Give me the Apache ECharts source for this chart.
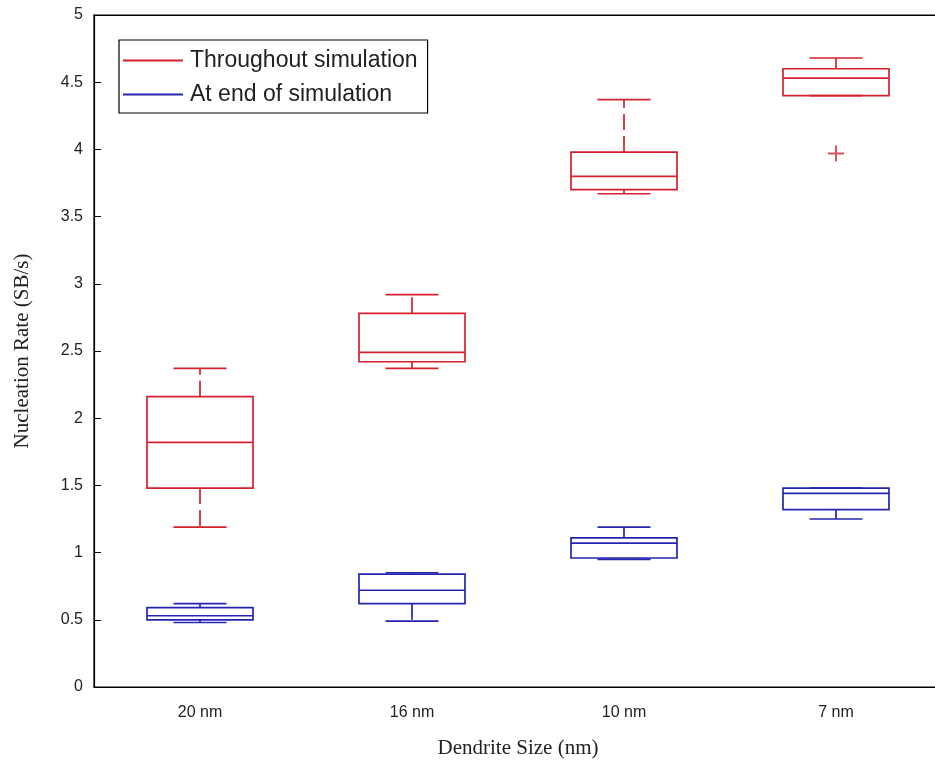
<!DOCTYPE html>
<html>
<head>
<meta charset="utf-8">
<style>
  html, body { margin: 0; padding: 0; background: #fff; }
  #chart { width: 935px; height: 768px; }
</style>
<script src="https://cdn.jsdelivr.net/npm/echarts@6/dist/echarts.min.js"></script>
</head>
<body>
<div id="chart"></div>
<script>
// Dendrite sizes on the x axis
const categories = ['20 nm', '16 nm', '10 nm', '7 nm'];

// Box statistics per size: [lower whisker, Q1, median, Q3, upper whisker]
const throughoutStats = [
  [1.19, 1.48, 1.82, 2.16, 2.37],
  [2.37, 2.42, 2.49, 2.78, 2.92],
  [3.67, 3.70, 3.80, 3.98, 4.37],
  [4.40, 4.40, 4.53, 4.60, 4.68]
];
const endStats = [
  [0.48, 0.50, 0.53, 0.59, 0.62],
  [0.49, 0.62, 0.72, 0.84, 0.85],
  [0.95, 0.96, 1.07, 1.11, 1.19],
  [1.25, 1.32, 1.44, 1.48, 1.48]
];

// Outliers: [category index, value]
const throughoutOutliers = [[3, 3.97]];

const yTicks = { min: 0, max: 5, interval: 0.5 };

const RED = '#d3222c';
const BLUE = '#2424b0';

function boxRenderer(color) {
  return function (params, api) {
    const idx = api.value(0);
    const lo = api.value(1), q1 = api.value(2), med = api.value(3),
          q3 = api.value(4), hi = api.value(5);
    const band = api.size([1, 0])[0];
    const half = band * 0.25;      // box spans half a category
    const capHalf = half * 0.5;    // whisker caps are half the box width
    const cx = api.coord([idx, 0])[0];
    const yLo = api.coord([idx, lo])[1];
    const yQ1 = api.coord([idx, q1])[1];
    const yMed = api.coord([idx, med])[1];
    const yQ3 = api.coord([idx, q3])[1];
    const yHi = api.coord([idx, hi])[1];
    const solid = { stroke: color, lineWidth: 1.7, fill: null };
    const dashed = { stroke: color, lineWidth: 1.7, lineDash: [16, 6] };
    return {
      type: 'group',
      children: [
        { type: 'line', shape: { x1: cx, y1: yQ3, x2: cx, y2: yHi }, style: dashed },
        { type: 'line', shape: { x1: cx, y1: yQ1, x2: cx, y2: yLo }, style: dashed },
        { type: 'line', shape: { x1: cx - capHalf, y1: yHi, x2: cx + capHalf, y2: yHi }, style: solid },
        { type: 'line', shape: { x1: cx - capHalf, y1: yLo, x2: cx + capHalf, y2: yLo }, style: solid },
        { type: 'rect', shape: { x: cx - half, y: yQ3, width: half * 2, height: yQ1 - yQ3 }, style: solid },
        { type: 'line', shape: { x1: cx - half, y1: yMed, x2: cx + half, y2: yMed }, style: solid }
      ]
    };
  };
}

function toBoxData(stats) {
  return stats.map((s, i) => [i].concat(s));
}

const chart = echarts.init(document.getElementById('chart'), null, { renderer: 'canvas' });

const sansFont = '"Liberation Sans", Arial, sans-serif';
const serifFont = '"Liberation Serif", "Times New Roman", serif';

chart.setOption({
  backgroundColor: '#ffffff',
  animation: false,
  grid: {
    left: 94, top: 15, width: 848, height: 672,
    outerBoundsMode: 'none',
    show: true, borderColor: '#000', borderWidth: 1.2
  },
  legend: {
    orient: 'vertical',
    left: 119, top: 40,
    padding: [9, 10, 7, 4],
    itemGap: 11,
    itemWidth: 60, itemHeight: 2,
    borderColor: '#000', borderWidth: 1.2,
    backgroundColor: '#fff',
    textStyle: { fontFamily: sansFont, fontSize: 23, color: '#222', padding: [0, 0, 0, 2] },
    data: [
      { name: 'Throughout simulation', icon: 'rect', itemStyle: { color: RED } },
      { name: 'At end of simulation', icon: 'rect', itemStyle: { color: BLUE } }
    ]
  },
  xAxis: [
    {
      type: 'category', data: categories, position: 'bottom',
      name: 'Dendrite Size (nm)', nameLocation: 'middle', nameGap: 51,
      nameTextStyle: { fontFamily: serifFont, fontSize: 21, color: '#222' },
      axisLine: { lineStyle: { color: '#000', width: 1.2 } },
      axisTick: { inside: true, alignWithLabel: true, length: 7, lineStyle: { color: '#000' } },
      axisLabel: { fontFamily: sansFont, fontSize: 16, color: '#222', margin: 18 },
      splitLine: { show: false }
    },
    {
      type: 'category', data: categories, position: 'top',
      axisLine: { lineStyle: { color: '#000', width: 1.2 } },
      axisTick: { inside: true, alignWithLabel: true, length: 7, lineStyle: { color: '#000' } },
      axisLabel: { show: false },
      splitLine: { show: false }
    }
  ],
  yAxis: {
    type: 'value', min: yTicks.min, max: yTicks.max, interval: yTicks.interval,
    name: 'Nucleation Rate (SB/s)', nameLocation: 'middle', nameGap: 61,
    nameTextStyle: { fontFamily: serifFont, fontSize: 21, color: '#222' },
    axisLine: { show: true, lineStyle: { color: '#000', width: 1.2 } },
    axisTick: { show: true, inside: true, length: 7, lineStyle: { color: '#000' } },
    axisLabel: { fontFamily: sansFont, fontSize: 16, color: '#222', margin: 11 },
    splitLine: { show: false }
  },
  series: [
    {
      name: 'Throughout simulation', type: 'custom',
      itemStyle: { color: RED },
      renderItem: boxRenderer(RED),
      encode: { x: 0, y: [1, 2, 3, 4, 5] },
      data: toBoxData(throughoutStats)
    },
    {
      name: 'At end of simulation', type: 'custom',
      itemStyle: { color: BLUE },
      renderItem: boxRenderer(BLUE),
      encode: { x: 0, y: [1, 2, 3, 4, 5] },
      data: toBoxData(endStats)
    },
    {
      name: 'Throughout simulation', type: 'scatter',
      symbol: 'path://M0,4.4H10V5.6H0Z M4.4,0H5.6V10H4.4Z',
      symbolSize: 16,
      itemStyle: { color: RED },
      data: throughoutOutliers
    }
  ]
});
</script>
</body>
</html>
